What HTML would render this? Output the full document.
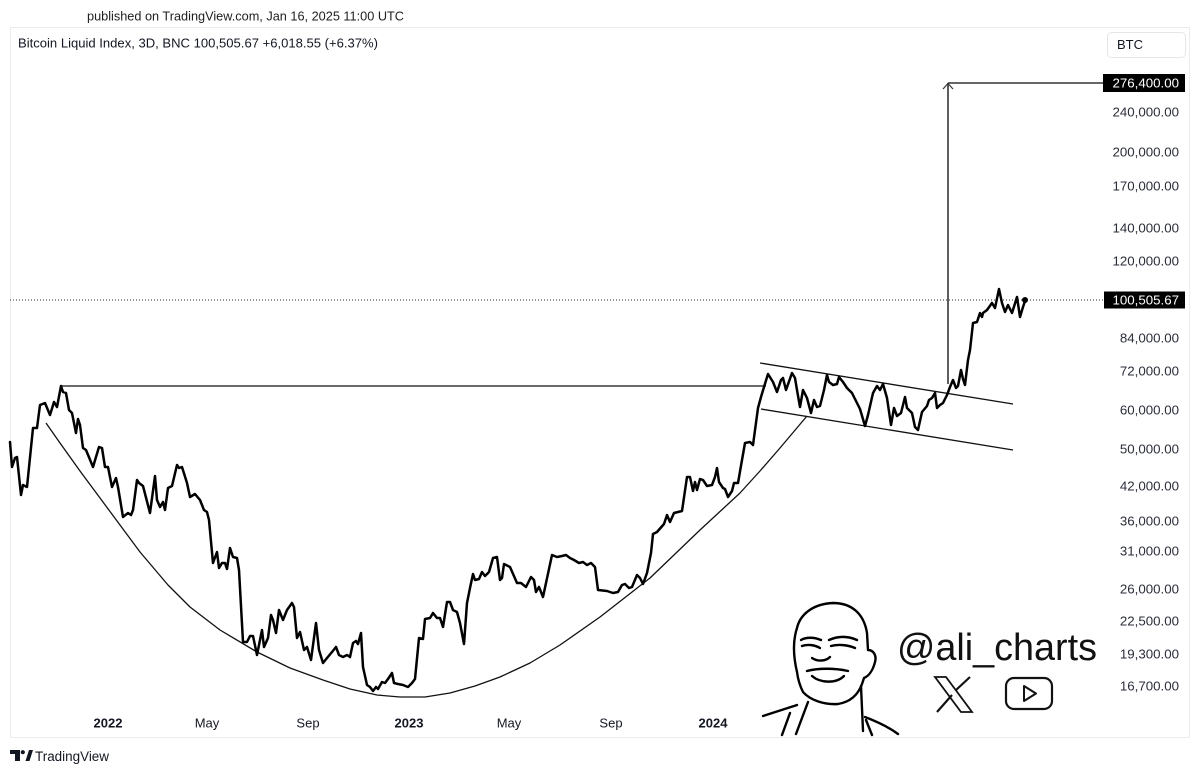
<!DOCTYPE html>
<html><head><meta charset="utf-8"><style>
html,body{margin:0;padding:0;background:#fff;}
svg{display:block;}
text{font-family:"Liberation Sans",Arial,sans-serif;}
</style></head><body>
<svg width="1200" height="773" viewBox="0 0 1200 773" xmlns="http://www.w3.org/2000/svg">
<rect x="0" y="0" width="1200" height="773" fill="#fff"/>
<!-- header -->
<text x="87" y="20.5" font-size="13" fill="#1e1e1e" textLength="317" lengthAdjust="spacingAndGlyphs">published on TradingView.com, Jan 16, 2025 11:00 UTC</text>
<!-- chart border -->
<rect x="10.5" y="27.5" width="1179" height="710" fill="none" stroke="#ececec" stroke-width="1"/>
<text x="18" y="47.5" font-size="12.5" fill="#131722" textLength="360" lengthAdjust="spacingAndGlyphs">Bitcoin Liquid Index, 3D, BNC  100,505.67  +6,018.55 (+6.37%)</text>
<!-- BTC box -->
<rect x="1107.5" y="32.5" width="78" height="25" rx="4" fill="#fff" stroke="#e6e6e6"/>
<text x="1117" y="49" font-size="13" fill="#131722">BTC</text>

<!-- axis labels -->
<g font-size="13.3" fill="#2a2e39" text-anchor="end">
<text x="1179" y="116.5">240,000.00</text>
<text x="1179" y="156.5">200,000.00</text>
<text x="1179" y="190.5">170,000.00</text>
<text x="1179" y="232.5">140,000.00</text>
<text x="1179" y="265.5">120,000.00</text>
<text x="1179" y="342.5">84,000.00</text>
<text x="1179" y="375.5">72,000.00</text>
<text x="1179" y="414.5">60,000.00</text>
<text x="1179" y="453.5">50,000.00</text>
<text x="1179" y="490.5">42,000.00</text>
<text x="1179" y="525.5">36,000.00</text>
<text x="1179" y="555.5">31,000.00</text>
<text x="1179" y="593.5">26,000.00</text>
<text x="1179" y="625.5">22,500.00</text>
<text x="1179" y="658.5">19,300.00</text>
<text x="1179" y="690.5">16,700.00</text>
</g>
<!-- black labels -->
<rect x="1103" y="74" width="82" height="18" fill="#000"/>
<text x="1179" y="87.5" font-size="13.3" fill="#fff" text-anchor="end">276,400.00</text>
<rect x="1104" y="291.5" width="81" height="17" fill="#000"/>
<text x="1179" y="304.5" font-size="13.3" fill="#fff" text-anchor="end">100,505.67</text>

<!-- time axis -->
<g font-size="13" fill="#131722" text-anchor="middle">
<text x="108" y="727.5" font-weight="bold">2022</text>
<text x="207" y="727.5">May</text>
<text x="308" y="727.5">Sep</text>
<text x="409" y="727.5" font-weight="bold">2023</text>
<text x="509" y="727.5">May</text>
<text x="611" y="727.5">Sep</text>
<text x="713" y="727.5" font-weight="bold">2024</text>
</g>

<!-- dotted current price line -->
<line x1="10" y1="300" x2="1103" y2="300" stroke="#333" stroke-width="1" stroke-dasharray="1,2"/>

<!-- horizontal resistance -->
<line x1="61" y1="386" x2="766" y2="386" stroke="#555" stroke-width="1.8"/>
<!-- arrow -->
<line x1="948" y1="83" x2="948" y2="384" stroke="#555" stroke-width="1.9"/>
<line x1="948" y1="83" x2="1103" y2="83" stroke="#333" stroke-width="1.4"/>
<polyline points="943,89 948,83.5 953,89" fill="none" stroke="#333" stroke-width="1.2"/>

<!-- channel -->
<line x1="760" y1="363" x2="1013" y2="404" stroke="#111" stroke-width="1.3"/>
<line x1="761" y1="409" x2="1013" y2="450" stroke="#111" stroke-width="1.3"/>

<!-- cup curve -->
<polyline fill="none" stroke="#111" stroke-width="1.3" stroke-linejoin="round" points="46,423 60,443 80,471 100,498 120,525 140,552 168,585 190,607 220,630 257,652 290,668 323,680 350,689 377,695 400,697 425,697 450,693 475,686 500,677 530,663 560,645 600,617 650,578 700,530 740,493 760,471 780,448 807,416"/>

<!-- price line -->
<polyline fill="none" stroke="#000" stroke-width="2.5" stroke-linejoin="round" stroke-linecap="round" points="10,442 12,467 15,458 17,457 21,495 23,485 27,487 33,428 37,428 40,405 45,403 50,415 54,402 57,407 61,386 63,392 66,393 69,410 72,413 76,433 78,419 80,425 83,448 86,450 93,467 99,447 102,448 105,467 108,467 112,487 116,478 118,487 123,517 128,513 131,515 133,510 137,480 139,483 143,486 150,513 155,476 157,500 160,507 163,502 165,510 168,488 172,486 177,465 179,468 182,467 187,483 190,497 195,494 200,500 204,510 207,512 209,520 213,563 217,552 219,568 222,563 225,563 227,569 230,548 233,557 237,558 239,570 243,642 247,642 250,636 253,636 257,655 262,630 264,647 268,638 271,615 273,620 276,633 279,610 283,620 287,610 292,603 294,607 297,638 300,632 304,650 307,647 311,660 316,623 319,650 323,663 327,658 332,652 336,647 339,655 343,657 347,655 350,657 353,643 356,641 358,644 361,633 363,667 367,685 370,687 373,691 376,687 378,689 382,682 385,683 388,679 392,673 394,683 398,684 403,685 408,687 412,683 415,679 419,638 423,639 425,619 430,618 433,613 437,618 440,618 443,627 447,602 450,602 453,610 457,612 460,623 464,644 467,603 470,588 473,574 475,580 479,579 482,572 485,576 489,572 493,558 497,557 500,580 502,578 504,564 510,567 517,583 521,583 526,587 531,577 534,580 536,592 539,587 543,597 552,555 557,557 562,556 566,555 570,558 574,560 579,563 583,562 587,565 591,563 595,567 598,590 607,591 613,593 618,592 622,585 625,584 629,588 632,587 637,575 640,578 643,584 647,573 651,553 653,534 657,532 664,524 667,515 670,522 674,513 682,511 687,477 690,477 693,491 695,482 697,490 700,479 703,480 707,486 712,485 715,477 717,468 719,482 723,488 725,489 728,497 732,491 734,483 738,483 742,460 745,443 750,442 753,445 758,408 761,397 764,387 768,374 773,382 777,392 781,380 783,378 786,390 792,373 795,378 797,390 800,407 803,390 807,398 811,413 814,400 817,407 820,406 824,390 827,375 829,382 833,385 837,384 839,377 843,382 847,388 852,393 855,399 860,409 865,426 868,415 873,393 877,386 880,390 883,384 887,398 891,425 894,408 897,416 901,413 905,397 907,408 912,413 915,427 918,430 922,412 927,406 929,400 932,398 935,393 937,408 940,405 943,403 947,395 950,387 953,380 956,388 958,386 961,370 963,379 965,385 968,360 970,350 973,323 977,322 980,313 982,317 983,313 987,310 992,303 995,308 999,289 1002,303 1005,312 1008,305 1012,313 1017,297 1020,317 1023,307 1025,301"/>
<circle cx="1025" cy="300" r="3" fill="#000"/>

<!-- face drawing -->
<g fill="none" stroke="#000" stroke-width="2.4" stroke-linecap="round" stroke-linejoin="round">
<path d="M797,672 C793,655 793,640 797,628 C800,615 812,604 833,603 C852,603 864,614 867,633 L868,650 C873,650 877,655 875,662 C873,670 869,676 864,678 L862,684 C858,695 850,702 838,704 C824,705 810,700 803,692 C800,686 798,680 797,672 Z"/>
<path d="M801,640 C806,637 814,637 821,640"/>
<path d="M802,646 C808,644 815,645 820,648"/>
<path d="M829,640 C838,636 848,636 857,640"/>
<path d="M831,646 C839,644 848,645 855,648"/>
<path d="M807,671 C818,668 835,668 848,671"/>
<path d="M812,676 C820,683 836,684 844,676"/>
<path d="M812,658 C818,662 826,661 830,657"/>
<path d="M808,702 L796,734"/>
<path d="M861,686 L863,731"/>
<path d="M763,716 C775,712 788,708 797,705"/>
<path d="M865,717 C878,722 890,728 898,734"/>
<path d="M782,735 L790,713"/>
<path d="M872,735 L866,720"/>
</g>
<text x="897" y="660" font-size="38" fill="#111" textLength="200" lengthAdjust="spacingAndGlyphs">@ali_charts</text>
<!-- X logo -->
<g stroke="#111" fill="none" stroke-width="2">
<polygon points="935,677 946,677 972,712 961,712" stroke-width="1.8"/>
<line x1="937" y1="712" x2="952" y2="695" stroke-width="2.2"/>
<line x1="956" y1="690" x2="970" y2="677" stroke-width="2.2"/>
</g>
<!-- youtube -->
<rect x="1006" y="678" width="46" height="31" rx="8" fill="none" stroke="#111" stroke-width="2.2"/>
<polygon points="1024,686 1036,693.5 1024,701" fill="none" stroke="#111" stroke-width="2" stroke-linejoin="round"/>

<!-- TradingView footer -->
<g fill="#131722">
<path d="M10,750 H20 V761 H15 V754 H10 Z"/>
<circle cx="22.8" cy="752.2" r="2.1"/>
<path d="M25.5,761 L29,750 H33 L29.5,761 Z"/>
</g>
<text x="35" y="761" font-size="13.5" fill="#131722" textLength="74" lengthAdjust="spacingAndGlyphs">TradingView</text>
</svg>
</body></html>
